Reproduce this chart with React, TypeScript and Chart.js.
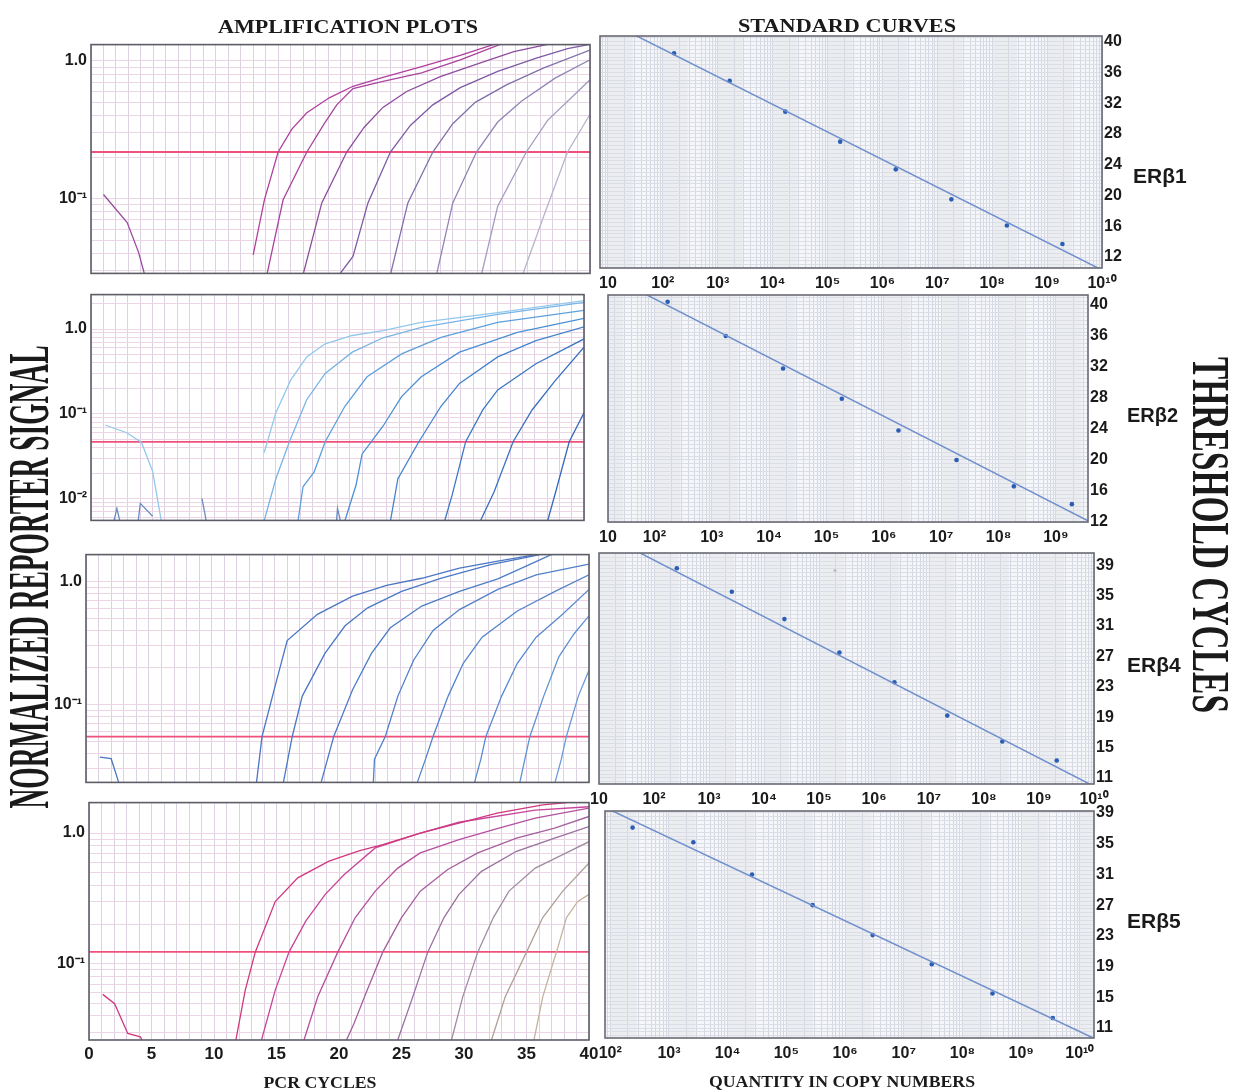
import React, { useEffect, useRef } from "react";
import { Chart, registerables } from "chart.js";

Chart.register(...registerables);

type Pt = [number, number];

/* ================= AMPLIFICATION PLOTS  [PCR cycle, normalized reporter signal] ================= */
const CYCLE_LABELS = [0, 5, 10, 15, 20, 25, 30, 35, 40];

// ERβ1
const erb1Curves: Pt[][] = [
  [[13.0, 0.039], [13.9, 0.098], [15.0, 0.218], [16.1, 0.32], [17.3, 0.42], [19.1, 0.54], [21.0, 0.655], [23.4, 0.76], [26.5, 0.91], [29.6, 1.1], [32.3, 1.32]],
  [[14.1, 0.028], [15.4, 0.098], [17.3, 0.218], [18.7, 0.35], [19.7, 0.48], [21.0, 0.63], [23.4, 0.71], [26.5, 0.82], [29.6, 1.02], [32.8, 1.32]],
  [[17.0, 0.028], [18.5, 0.093], [20.5, 0.218], [21.9, 0.33], [23.4, 0.46], [25.3, 0.6], [28.0, 0.77], [31.1, 0.96], [33.9, 1.17], [36.6, 1.32]],
  [[19.9, 0.028], [21.0, 0.038], [22.2, 0.093], [24.0, 0.218], [25.6, 0.34], [27.4, 0.48], [29.6, 0.64], [32.6, 0.84], [35.7, 1.05], [38.2, 1.23], [40, 1.32]],
  [[24.0, 0.028], [25.4, 0.093], [27.4, 0.218], [29.0, 0.35], [30.8, 0.5], [33.3, 0.67], [36.3, 0.89], [40, 1.2]],
  [[27.7, 0.028], [29.0, 0.093], [30.9, 0.218], [32.6, 0.36], [34.5, 0.51], [37.2, 0.75], [40, 1.02]],
  [[31.3, 0.028], [32.6, 0.088], [34.9, 0.218], [36.6, 0.37], [38.5, 0.54], [40, 0.73]],
  [[34.6, 0.028], [36.3, 0.075], [38.2, 0.218], [40, 0.41]],
];
const erb1Baseline: Pt[][] = [[[1.0, 0.107], [2.9, 0.067], [3.8, 0.041], [4.3, 0.028]]];
const erb1Threshold = 0.218;

// ERβ2
const erb2Curves: Pt[][] = [
  [[14.05, 0.035], [15.0, 0.103], [16.2, 0.25], [17.5, 0.47], [19.0, 0.67], [21.2, 0.84], [23.7, 0.96], [26.8, 1.2], [33.0, 1.56], [40, 2.17]],
  [[14.05, 0.0055], [15.0, 0.0172], [16.1, 0.047], [17.5, 0.147], [19.0, 0.3], [21.2, 0.535], [23.7, 0.79], [26.8, 1.05], [33.0, 1.49], [40, 2.06]],
  [[16.8, 0.0055], [17.2, 0.0138], [18.1, 0.0206], [19.0, 0.047], [20.6, 0.123], [22.4, 0.274], [25.2, 0.51], [28.4, 0.8], [33.0, 1.2], [40, 1.66]],
  [[20.6, 0.0055], [21.5, 0.0144], [22.0, 0.0337], [22.75, 0.047], [23.7, 0.072], [25.2, 0.16], [26.8, 0.274], [29.9, 0.535], [34.6, 0.915], [40, 1.34]],
  [[24.3, 0.0055], [24.9, 0.0172], [26.6, 0.047], [28.4, 0.123], [29.9, 0.229], [33.0, 0.47], [36.1, 0.73], [40, 1.06]],
  [[28.7, 0.0055], [29.3, 0.011], [30.4, 0.047], [31.8, 0.112], [33.0, 0.192], [36.1, 0.39], [40, 0.765]],
  [[31.6, 0.0055], [32.7, 0.012], [34.25, 0.047], [35.8, 0.112], [37.7, 0.25], [40, 0.61]],
  [[37.05, 0.0055], [37.7, 0.012], [38.8, 0.047], [40, 0.103]],
];
const erb2Baseline: Pt[][] = [
  [[1.15, 0.074], [2.9, 0.06], [4.1, 0.046], [5.0, 0.021], [5.7, 0.0055]],
  [[1.8, 0.005], [2.1, 0.0077], [2.4, 0.005]],
  [[3.8, 0.005], [4.0, 0.0088], [5.0, 0.0062]],
  [[9.0, 0.0101], [9.4, 0.005]],
  [[19.9, 0.005], [20.0, 0.0077], [20.3, 0.005]],
];
const erb2Threshold = 0.0469;

// ERβ4
const erb4Curves: Pt[][] = [
  [[13.56, 0.0233], [14.0, 0.055], [15.1, 0.149], [16.0, 0.331], [18.4, 0.54], [21.2, 0.76], [23.9, 0.93], [26.7, 1.06], [29.7, 1.28], [32.75, 1.46], [35.8, 1.65]],
  [[15.7, 0.0233], [16.4, 0.055], [17.2, 0.117], [19.0, 0.26], [20.6, 0.436], [22.4, 0.61], [25.1, 0.83], [28.2, 1.06], [32.1, 1.36], [36.1, 1.65]],
  [[18.7, 0.0233], [19.7, 0.055], [21.2, 0.132], [22.7, 0.26], [24.2, 0.42], [26.7, 0.63], [29.7, 0.83], [32.75, 1.05], [35.0, 1.33], [37.0, 1.65]],
  [[22.85, 0.0233], [22.94, 0.036], [23.8, 0.055], [24.8, 0.117], [26.05, 0.229], [27.6, 0.4], [29.7, 0.59], [32.75, 0.86], [35.8, 1.13], [40, 1.38]],
  [[26.35, 0.0233], [27.0, 0.036], [27.6, 0.055], [28.8, 0.117], [30.0, 0.216], [31.5, 0.352], [34.3, 0.575], [37.3, 0.83], [40, 1.13]],
  [[30.9, 0.0233], [31.4, 0.036], [31.8, 0.055], [33.05, 0.117], [34.3, 0.216], [35.8, 0.352], [37.9, 0.54], [40, 0.86]],
  [[34.5, 0.0233], [34.9, 0.036], [35.3, 0.055], [36.4, 0.117], [37.6, 0.244], [38.8, 0.374], [40, 0.525]],
  [[37.3, 0.0233], [37.8, 0.036], [38.2, 0.055], [39.15, 0.117], [40, 0.19]],
];
const erb4Baseline: Pt[][] = [[[1.1, 0.0374], [2.0, 0.0363], [2.6, 0.0233]]];
const erb4Threshold = 0.0548;

// ERβ5
const erb5Curves: Pt[][] = [
  [[11.75, 0.0262], [12.5, 0.063], [13.3, 0.123], [14.9, 0.3], [16.7, 0.455], [19.2, 0.61], [21.6, 0.73], [23.5, 0.815], [26.5, 1.0], [29.6, 1.19], [32.65, 1.42], [36.3, 1.64], [38.2, 1.71]],
  [[13.8, 0.0262], [14.9, 0.063], [16.0, 0.123], [17.35, 0.213], [18.9, 0.34], [20.4, 0.48], [22.9, 0.77], [26.5, 1.0], [29.6, 1.21], [35.7, 1.5], [40, 1.59]],
  [[17.2, 0.0262], [18.3, 0.056], [19.9, 0.123], [21.3, 0.226], [22.9, 0.36], [24.7, 0.54], [26.5, 0.705], [29.6, 0.89], [32.65, 1.08], [35.7, 1.3], [40, 1.55]],
  [[20.6, 0.0262], [21.2, 0.035], [22.25, 0.063], [23.5, 0.123], [25.0, 0.226], [26.5, 0.36], [28.7, 0.527], [31.1, 0.705], [34.2, 0.916], [37.25, 1.09], [40, 1.34]],
  [[24.7, 0.0262], [25.9, 0.056], [27.1, 0.123], [28.4, 0.226], [29.6, 0.34], [31.4, 0.51], [34.2, 0.726], [37.25, 0.916], [40, 1.12]],
  [[29.0, 0.0262], [29.9, 0.056], [31.1, 0.123], [32.35, 0.226], [33.6, 0.36], [35.7, 0.54], [37.9, 0.684], [40, 0.86]],
  [[32.2, 0.0262], [33.3, 0.056], [35.0, 0.123], [36.3, 0.226], [37.9, 0.36], [40, 0.59]],
  [[35.6, 0.0262], [36.3, 0.056], [37.1, 0.1], [37.4, 0.123], [38.2, 0.226], [39.1, 0.3], [40, 0.34]],
];
const erb5Baseline: Pt[][] = [[[1.1, 0.0585], [2.05, 0.0497], [3.1, 0.0294], [4.1, 0.0277], [4.25, 0.0262]]];
const erb5Threshold = 0.1234;

/* ================= STANDARD CURVES  [copy number, threshold cycle] ================= */
const erb1Quantity = [160, 1650, 17000, 170000, 1.75e6, 1.8e7, 1.85e8, 1.9e9];
const erb1Ct = [38.5, 34.9, 30.9, 27.0, 23.4, 19.5, 16.1, 13.7];
const erb1Fit = { slope: -3.59, intercept: 46.21 };

const erb2Quantity = [170, 1750, 17500, 185000, 1.8e6, 1.85e7, 1.85e8, 1.9e9];
const erb2Ct = [40.4, 36.0, 31.8, 27.9, 23.8, 20.0, 16.6, 14.3];
const erb2Fit = { slope: -3.79, intercept: 48.37 };

const erb4Quantity = [260, 2600, 23500, 235000, 2.35e6, 2.15e7, 2.15e8, 2.1e9];
const erb4Ct = [38.6, 35.5, 31.9, 27.5, 23.6, 19.2, 15.8, 13.3];
const erb4Stray = [[195000, 38.3]];
const erb4Fit = { slope: -3.72, intercept: 47.1 };

const erb5Quantity = [240, 2600, 26000, 280000, 2.95e6, 3.0e7, 3.25e8, 3.45e9];
const erb5Ct = [37.1, 35.2, 31.0, 27.0, 23.1, 19.3, 15.5, 12.3];
const erb5Fit = { slope: -3.61, intercept: 46.62 };

const CT_LABELS_A = [12, 16, 20, 24, 28, 32, 36, 40];
const CT_LABELS_B = [11, 15, 19, 23, 27, 31, 35, 39];
const GENE_NAMES = ["ERβ1", "ERβ2", "ERβ4", "ERβ5"];

/* ================= layout / style ================= */
type Box = { l: number; t: number; r: number; b: number };
const AMP_BOXES: Box[] = [
  { l: 91, t: 43, r: 590, b: 275 },
  { l: 91, t: 293, r: 584, b: 522 },
  { l: 86, t: 553, r: 589, b: 784 },
  { l: 89, t: 801, r: 589, b: 1040 },
];
const STD_BOXES: Box[] = [
  { l: 600, t: 36, r: 1102, b: 268 },
  { l: 608, t: 295, r: 1088, b: 522 },
  { l: 599, t: 553, r: 1094, b: 784 },
  { l: 605, t: 811, r: 1094, b: 1038 },
];

const TICK_FONT = { family: "Liberation Sans, Arial, sans-serif", size: 16, weight: "bold" as const };
const THRESH_COLOR = "#f0507c";

const SUP: Record<string, string> = { "0": "⁰", "1": "¹", "2": "²", "3": "³", "4": "⁴", "5": "⁵", "6": "⁶", "7": "⁷", "8": "⁸", "9": "⁹", "-": "⁻" };
const sup = (n: number) => String(n).split("").map((c) => SUP[c] || c).join("");

function logTickList(min: number, max: number) {
  const out: any[] = [];
  const e0 = Math.floor(Math.log10(min));
  const e1 = Math.ceil(Math.log10(max));
  for (let e = e0; e <= e1; e++) {
    for (let k = 1; k <= 9; k++) {
      const v = k * Math.pow(10, e);
      if (v >= min * 0.99999 && v <= max * 1.00001) out.push({ value: v, dec: k === 1, exp: e });
    }
  }
  return out;
}

const framePlugin = {
  id: "frame",
  beforeDraw(chart: any, _a: any, opts: any) {
    const { ctx, chartArea: a } = chart;
    ctx.save();
    ctx.fillStyle = opts.bg || "#ffffff";
    ctx.fillRect(a.left, a.top, a.width, a.height);
    if (opts.bands) {
      const xs = chart.scales.x;
      const e0 = Math.floor(Math.log10(xs.min));
      const e1 = Math.ceil(Math.log10(xs.max));
      ctx.fillStyle = "rgba(120,122,140,0.07)";
      for (let e = e0; e <= e1; e++) {
        const p1 = Math.max(a.left, xs.getPixelForValue(Math.pow(10, e)));
        const p2 = Math.min(a.right, xs.getPixelForValue(Math.pow(10, e + 0.45)));
        if (p2 > p1) ctx.fillRect(p1, a.top, p2 - p1, a.height);
      }
    }
    ctx.restore();
  },
  afterDraw(chart: any, _a: any, opts: any) {
    const { ctx, chartArea: a } = chart;
    ctx.save();
    ctx.strokeStyle = opts.color || "#555";
    ctx.lineWidth = opts.width || 1.5;
    ctx.strokeRect(a.left, a.top, a.width, a.height);
    ctx.restore();
  },
};

function ChartBox({ left, top, width, height, config }: any) {
  const ref = useRef<HTMLCanvasElement>(null);
  useEffect(() => {
    const chart = new Chart(ref.current as HTMLCanvasElement, config);
    return () => chart.destroy();
  }, []);
  return (
    <canvas
      ref={ref}
      width={width}
      height={height}
      style={{ position: "absolute", left, top, width, height }}
    />
  );
}

const toXY = (pts: Pt[]) => pts.map(([x, y]) => ({ x, y }));

function ampPanel(
  key: string,
  box: Box,
  curves: Pt[][],
  extras: Pt[][],
  extraColors: string[],
  colors: string[],
  threshold: number,
  yMin: number,
  yMax: number,
  showX: boolean
) {
  const ML = 72, MR = 14, MT = 12, MB = showX ? 34 : 12;
  const width = box.r - box.l + ML + MR;
  const height = box.b - box.t + MT + MB;
  const lineDs = (pts: Pt[], color: string, w = 1.3) => ({
    data: toXY(pts),
    showLine: true,
    borderColor: color,
    borderWidth: w,
    pointRadius: 0,
    tension: 0,
  });
  const datasets: any[] = [];
  extras.forEach((e, i) => datasets.push(lineDs(e, extraColors[Math.min(i, extraColors.length - 1)])));
  curves.forEach((c, i) => datasets.push(lineDs(c, colors[i])));
  datasets.push(lineDs([[0, threshold], [40, threshold]], THRESH_COLOR, 1.8));
  const config = {
    type: "scatter",
    data: { datasets },
    plugins: [framePlugin],
    options: {
      responsive: false,
      animation: false,
      devicePixelRatio: 1,
      events: [],
      layout: { padding: { left: ML - 66, right: MR, top: MT, bottom: showX ? 4 : MB } },
      plugins: { legend: { display: false }, tooltip: { enabled: false }, frame: { color: "#5c5c66", width: 1.6 } },
      scales: {
        x: {
          type: "linear",
          min: 0,
          max: 40,
          afterBuildTicks: (s: any) => {
            const t: any[] = [];
            for (let v = 0; v <= 40; v++) t.push({ value: v });
            s.ticks = t;
          },
          afterFit: (s: any) => {
            s.height = showX ? 30 : 0;
          },
          grid: { color: "#dcd2e4", lineWidth: 1, drawTicks: false },
          border: { display: false },
          ticks: {
            display: showX,
            autoSkip: false,
            maxRotation: 0,
            minRotation: 0,
            padding: 4,
            font: { ...TICK_FONT, size: 17 },
            color: "#1a1a1a",
            callback: (v: number) => (CYCLE_LABELS.includes(v) ? String(v) : ""),
          },
        },
        y: {
          type: "logarithmic",
          min: yMin,
          max: yMax,
          afterBuildTicks: (s: any) => {
            s.ticks = logTickList(yMin, yMax);
          },
          afterFit: (s: any) => {
            s.width = 66;
          },
          grid: { color: "#ecd6e6", lineWidth: 1, drawTicks: false },
          border: { display: false },
          ticks: {
            autoSkip: false,
            padding: 4,
            font: TICK_FONT,
            color: "#1a1a1a",
            callback: (_v: number, i: number, ticks: any[]) => {
              const t = ticks[i];
              if (!t.dec) return "";
              return t.exp === 0 ? "1.0" : "10" + sup(t.exp);
            },
          },
        },
      },
    },
  };
  return (
    <ChartBox key={key} left={box.l - ML} top={box.t - MT} width={width} height={height} config={config} />
  );
}

function stdPanel(
  key: string,
  box: Box,
  qty: number[],
  ct: number[],
  fit: { slope: number; intercept: number },
  xMin: number,
  xMax: number,
  yMin: number,
  yMax: number,
  ctLabels: number[],
  minLabel: string | null,
  stray: number[][] | null
) {
  const ML = 16, MR = 44, MT = 12, MB = 34;
  const width = box.r - box.l + ML + MR;
  const height = box.b - box.t + MT + MB;
  const datasets: any[] = [
    {
      data: [
        { x: xMin, y: fit.intercept + fit.slope * Math.log10(xMin) },
        { x: xMax, y: fit.intercept + fit.slope * Math.log10(xMax) },
      ],
      showLine: true,
      borderColor: "#6f8fcc",
      borderWidth: 1.5,
      pointRadius: 0,
    },
    {
      data: qty.map((q, i) => ({ x: q, y: ct[i] })),
      showLine: false,
      pointRadius: 2.3,
      pointBackgroundColor: "#2b5db5",
      pointBorderWidth: 0,
    },
  ];
  if (stray) {
    datasets.push({
      data: stray.map(([x, y]) => ({ x, y })),
      showLine: false,
      pointRadius: 1.6,
      pointBackgroundColor: "rgba(170,170,180,0.7)",
      pointBorderWidth: 0,
    });
  }
  const config = {
    type: "scatter",
    data: { datasets },
    plugins: [framePlugin],
    options: {
      responsive: false,
      animation: false,
      devicePixelRatio: 1,
      events: [],
      layout: { padding: { left: ML, right: MR - 40, top: MT, bottom: MB - 30 } },
      plugins: {
        legend: { display: false },
        tooltip: { enabled: false },
        frame: { color: "#6a6a74", width: 1.6, bg: "#f5f6f9", bands: true },
      },
      scales: {
        x: {
          type: "logarithmic",
          min: xMin,
          max: xMax,
          afterBuildTicks: (s: any) => {
            const t = logTickList(xMin, xMax);
            if (minLabel && t.length && t[0].value > xMin * 1.0001) t.unshift({ value: xMin, dec: false, text: minLabel });
            s.ticks = t;
          },
          afterFit: (s: any) => {
            s.height = 30;
          },
          grid: { color: "#d5d8e2", lineWidth: 1, drawTicks: false },
          border: { display: false },
          ticks: {
            autoSkip: false,
            maxRotation: 0,
            minRotation: 0,
            padding: 6,
            font: TICK_FONT,
            color: "#1a1a1a",
            callback: (_v: number, i: number, ticks: any[]) => {
              const t = ticks[i];
              if (t.text) return t.text;
              if (!t.dec) return "";
              return t.exp === 1 ? "10" : "10" + sup(t.exp);
            },
          },
        },
        y: {
          type: "linear",
          position: "right",
          min: yMin,
          max: yMax,
          afterBuildTicks: (s: any) => {
            const t: any[] = [];
            for (let v = Math.ceil(yMin * 2) / 2; v <= yMax + 1e-9; v += 0.5) t.push({ value: v });
            s.ticks = t;
          },
          afterFit: (s: any) => {
            s.width = 40;
          },
          grid: { color: "#dcdee6", lineWidth: 1, drawTicks: false },
          border: { display: false },
          ticks: {
            autoSkip: false,
            padding: 2,
            font: TICK_FONT,
            color: "#1a1a1a",
            callback: (v: number) => (ctLabels.includes(v) ? String(v) : ""),
          },
        },
      },
    },
  };
  return (
    <ChartBox key={key} left={box.l - ML} top={box.t - MT} width={width} height={height} config={config} />
  );
}

const C1 = ["#b0409e", "#a8449e", "#8e4c9e", "#7c5aa4", "#8070aa", "#9284b6", "#a49cc0", "#b8b2cc"];
const C2 = ["#92c8ec", "#78b4e4", "#5ea0dc", "#4c90d4", "#4484cc", "#3c78c4", "#3a70c0", "#3468bc"];
const C3 = ["#4a76c2", "#4a78c4", "#4c7cc6", "#5080c8", "#5484ca", "#5a8ace", "#6092d2", "#6a9ad6"];
const C4 = ["#d0387e", "#c8449a", "#b4509e", "#a4609e", "#9a709e", "#a08ca0", "#b0a096", "#c4b49c"];

export default function App() {
  const serif = "Liberation Serif, 'Times New Roman', serif";
  const sans = "Liberation Sans, Arial, sans-serif";
  return (
    <div style={{ position: "absolute", left: 0, top: 0, width: 1235, height: 1090, background: "#fff", overflow: "hidden" }}>
      {ampPanel("a1", AMP_BOXES[0], erb1Curves, erb1Baseline, ["#9a4a9e"], C1, erb1Threshold, 0.0286, 1.315, false)}
      {ampPanel("a2", AMP_BOXES[1], erb2Curves, erb2Baseline, ["#92c8ec", "#6a8cc0"], C2, erb2Threshold, 0.00555, 2.55, false)}
      {ampPanel("a3", AMP_BOXES[2], erb4Curves, erb4Baseline, ["#4a76c2"], C3, erb4Threshold, 0.0233, 1.65, false)}
      {ampPanel("a4", AMP_BOXES[3], erb5Curves, erb5Baseline, ["#d0387e"], C4, erb5Threshold, 0.0262, 1.71, true)}

      {stdPanel("s1", STD_BOXES[0], erb1Quantity, erb1Ct, erb1Fit, 7.16, 1e10, 10.57, 40.74, CT_LABELS_A, null, null)}
      {stdPanel("s2", STD_BOXES[1], erb2Quantity, erb2Ct, erb2Fit, 15.5, 3.63e9, 12, 41.28, CT_LABELS_A, "10", null)}
      {stdPanel("s3", STD_BOXES[2], erb4Quantity, erb4Ct, erb4Fit, 10, 1e10, 10.2, 40.6, CT_LABELS_B, null, erb4Stray)}
      {stdPanel("s4", STD_BOXES[3], erb5Quantity, erb5Ct, erb5Fit, 81.3, 1.74e10, 9.7, 39.26, CT_LABELS_B, null, null)}

      <svg width={1235} height={1090} style={{ position: "absolute", left: 0, top: 0, pointerEvents: "none" }}>
        <text x={348} y={33} textAnchor="middle" fontFamily={serif} fontWeight="bold" fontSize={19} textLength={260} lengthAdjust="spacingAndGlyphs" fill="#1a1a1a">
          AMPLIFICATION PLOTS
        </text>
        <text x={847} y={32} textAnchor="middle" fontFamily={serif} fontWeight="bold" fontSize={19} textLength={218} lengthAdjust="spacingAndGlyphs" fill="#1a1a1a">
          STANDARD CURVES
        </text>
        <text x={320} y={1088} textAnchor="middle" fontFamily={serif} fontWeight="bold" fontSize={16} textLength={113} lengthAdjust="spacingAndGlyphs" fill="#1a1a1a">
          PCR CYCLES
        </text>
        <text x={842} y={1087} textAnchor="middle" fontFamily={serif} fontWeight="bold" fontSize={16} textLength={266} lengthAdjust="spacingAndGlyphs" fill="#1a1a1a">
          QUANTITY IN COPY NUMBERS
        </text>
        <text transform="translate(48,577) rotate(-90)" textAnchor="middle" fontFamily={serif} fontWeight="bold" fontSize={56} textLength={463} lengthAdjust="spacingAndGlyphs" fill="#1a1a1a">
          NORMALIZED REPORTER SIGNAL
        </text>
        <text transform="translate(1193,535) rotate(90)" textAnchor="middle" fontFamily={serif} fontWeight="bold" fontSize={52} textLength={356} lengthAdjust="spacingAndGlyphs" fill="#1a1a1a">
          THRESHOLD CYCLES
        </text>
        <text x={1133} y={183} fontFamily={sans} fontWeight="bold" fontSize={21} fill="#1a1a1a">{GENE_NAMES[0]}</text>
        <text x={1127} y={422} fontFamily={sans} fontWeight="bold" fontSize={20} fill="#1a1a1a">{GENE_NAMES[1]}</text>
        <text x={1127} y={672} fontFamily={sans} fontWeight="bold" fontSize={21} fill="#1a1a1a">{GENE_NAMES[2]}</text>
        <text x={1127} y={928} fontFamily={sans} fontWeight="bold" fontSize={21} fill="#1a1a1a">{GENE_NAMES[3]}</text>
      </svg>
    </div>
  );
}
